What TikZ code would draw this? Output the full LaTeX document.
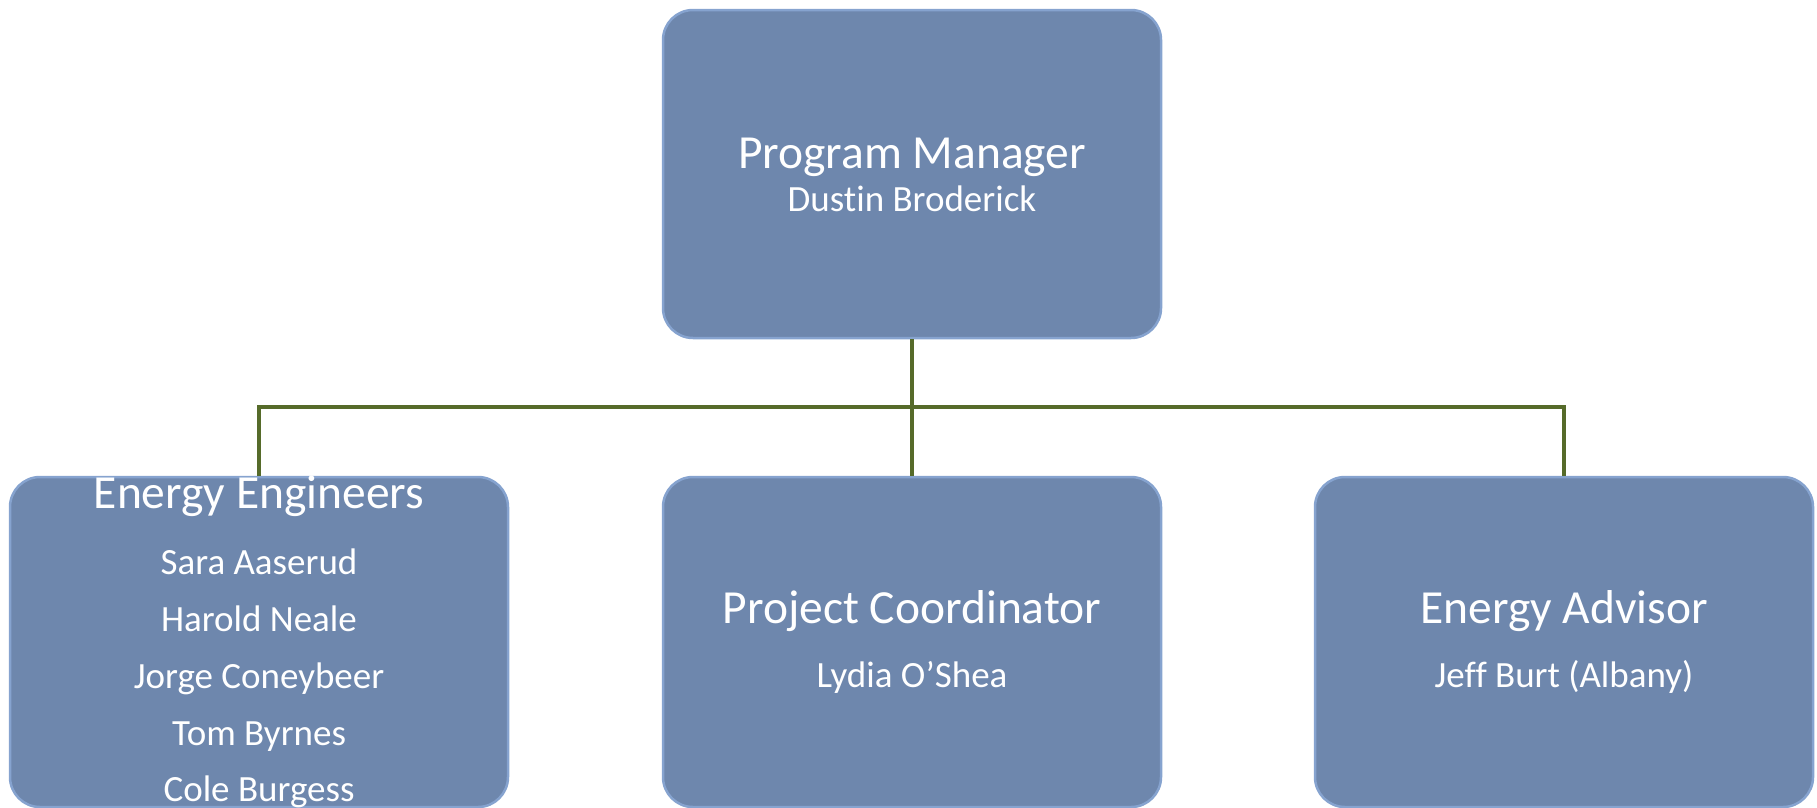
\documentclass[tikz,border=0pt]{standalone}
\usepackage{fontspec}
\setmainfont{Carlito}[Ligatures=NoCommon]
\definecolor{boxfill}{HTML}{6E87AD}
\definecolor{boxedge}{HTML}{86A3CF}
\definecolor{linkc}{HTML}{566B2A}
\begin{document}
\begin{tikzpicture}[x=1pt,y=-1pt,
  box/.style={draw=boxedge, line width=2.5pt, fill=boxfill, rounded corners=30pt,
    minimum width=498pt, inner sep=0pt},
  link/.style={draw=linkc, line width=4.5pt},
  ttl/.style={text=white, font=\fontsize{47.5}{50}\selectfont, inner sep=0pt, text height=0.7em, text depth=0.2em},
  nm/.style={text=white, font=\fontsize{37}{40}\selectfont, inner sep=0pt, text height=0.7em, text depth=0.2em}]
\useasboundingbox (0,0) rectangle (1817,807);
% boxes
\node[box, minimum height=328pt] (top) at (912,174) {};
\node[box, minimum height=330pt] (left) at (259,642) {};
\node[box, minimum height=330pt] (mid) at (912,642) {};
\node[box, minimum height=330pt] (right) at (1564,642) {};
% connectors
\coordinate (busL) at (259,407);
\draw[link] (top.south) -- (mid.north);
\draw[link] (left.north) -- (busL) -| (right.north);
% texts
\node[ttl] (t1) at (912,166) {Program Manager};
\node[nm] (n1) at (912,209) {Dustin Broderick};
\node[ttl] (t2) at (259,506) {Energy Engineers};
\node[nm] (n2a) at (259,572) {Sara Aaserud};
\node[nm] (n2b) at (259,629) {Harold Neale};
\node[nm] (n2c) at (259,686) {Jorge Coneybeer};
\node[nm] (n2d) at (259,743) {Tom Byrnes};
\node[nm] (n2e) at (259,799) {Cole Burgess};
\node[ttl] (t3) at (912,621) {Project Coordinator};
\node[nm] (n3) at (912,685) {Lydia O’Shea};
\node[ttl] (t4) at (1564,621) {Energy Advisor};
\node[nm] (n4) at (1564,685) {Jeff Burt (Albany)};
\end{tikzpicture}
\end{document}
